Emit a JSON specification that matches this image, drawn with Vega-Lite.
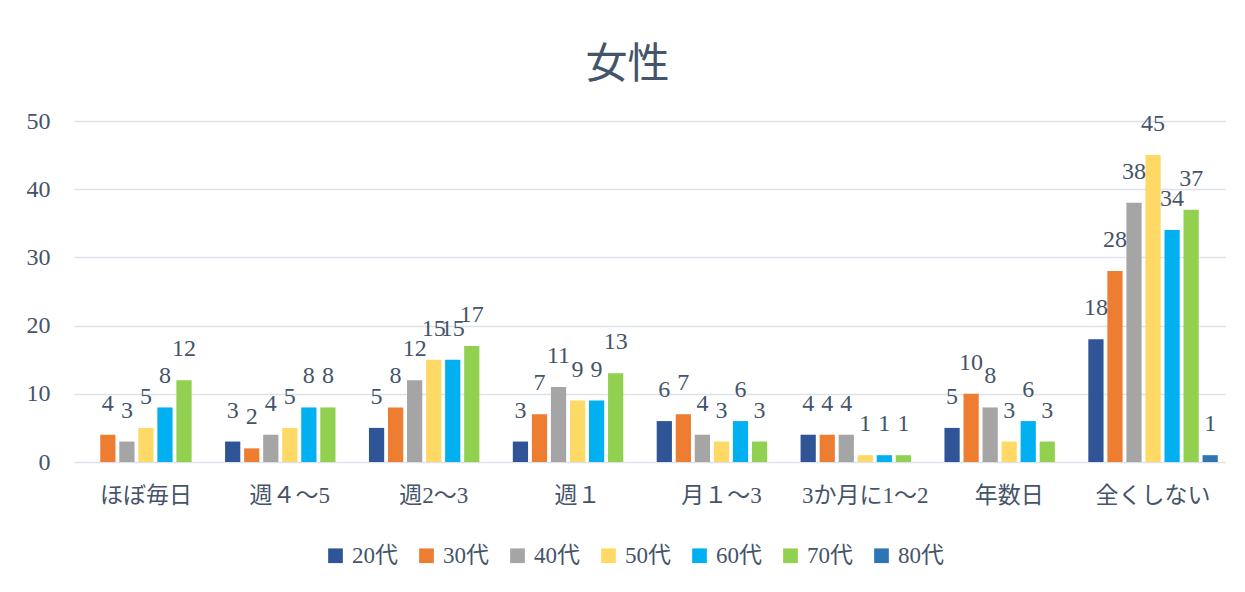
{
  "$schema": "https://vega.github.io/schema/vega-lite/v6.json",
  "width": 1151,
  "height": 341,
  "autosize": {"type": "none"},
  "padding": {"left": 74, "top": 121, "right": 20, "bottom": 130},
  "background": "white",
  "config": {"view": {"stroke": null}},
  "title": {"text": "女性", "fontSize": 42, "font": "Noto Sans CJK JP", "fontWeight": "normal", "color": "#44546A", "offset": 22, "dx": -22},
  "data": {"values": [
    {"cat": "ほぼ毎日", "age": "30代", "v": 4},
    {"cat": "ほぼ毎日", "age": "40代", "v": 3},
    {"cat": "ほぼ毎日", "age": "50代", "v": 5},
    {"cat": "ほぼ毎日", "age": "60代", "v": 8},
    {"cat": "ほぼ毎日", "age": "70代", "v": 12},
    {"cat": "週４～5", "age": "20代", "v": 3},
    {"cat": "週４～5", "age": "30代", "v": 2},
    {"cat": "週４～5", "age": "40代", "v": 4},
    {"cat": "週４～5", "age": "50代", "v": 5},
    {"cat": "週４～5", "age": "60代", "v": 8},
    {"cat": "週４～5", "age": "70代", "v": 8},
    {"cat": "週2～3", "age": "20代", "v": 5},
    {"cat": "週2～3", "age": "30代", "v": 8},
    {"cat": "週2～3", "age": "40代", "v": 12},
    {"cat": "週2～3", "age": "50代", "v": 15},
    {"cat": "週2～3", "age": "60代", "v": 15},
    {"cat": "週2～3", "age": "70代", "v": 17},
    {"cat": "週１", "age": "20代", "v": 3},
    {"cat": "週１", "age": "30代", "v": 7},
    {"cat": "週１", "age": "40代", "v": 11},
    {"cat": "週１", "age": "50代", "v": 9},
    {"cat": "週１", "age": "60代", "v": 9},
    {"cat": "週１", "age": "70代", "v": 13},
    {"cat": "月１～3", "age": "20代", "v": 6},
    {"cat": "月１～3", "age": "30代", "v": 7},
    {"cat": "月１～3", "age": "40代", "v": 4},
    {"cat": "月１～3", "age": "50代", "v": 3},
    {"cat": "月１～3", "age": "60代", "v": 6},
    {"cat": "月１～3", "age": "70代", "v": 3},
    {"cat": "3か月に1～2", "age": "20代", "v": 4},
    {"cat": "3か月に1～2", "age": "30代", "v": 4},
    {"cat": "3か月に1～2", "age": "40代", "v": 4},
    {"cat": "3か月に1～2", "age": "50代", "v": 1},
    {"cat": "3か月に1～2", "age": "60代", "v": 1},
    {"cat": "3か月に1～2", "age": "70代", "v": 1},
    {"cat": "年数日", "age": "20代", "v": 5},
    {"cat": "年数日", "age": "30代", "v": 10},
    {"cat": "年数日", "age": "40代", "v": 8},
    {"cat": "年数日", "age": "50代", "v": 3},
    {"cat": "年数日", "age": "60代", "v": 6},
    {"cat": "年数日", "age": "70代", "v": 3},
    {"cat": "全くしない", "age": "20代", "v": 18},
    {"cat": "全くしない", "age": "30代", "v": 28},
    {"cat": "全くしない", "age": "40代", "v": 38},
    {"cat": "全くしない", "age": "50代", "v": 45},
    {"cat": "全くしない", "age": "60代", "v": 34},
    {"cat": "全くしない", "age": "70代", "v": 37},
    {"cat": "全くしない", "age": "80代", "v": 1}
  ]},
  "encoding": {
    "x": {
      "field": "cat", "type": "nominal",
      "sort": ["ほぼ毎日", "週４～5", "週2～3", "週１", "月１～3", "3か月に1～2", "年数日", "全くしない"],
      "scale": {"paddingInner": 0.1, "paddingOuter": 0.05},
      "axis": {"title": null, "labelAngle": 0, "domain": false, "ticks": false, "labelPadding": 22, "labelFontSize": 23, "labelFont": "Liberation Serif, Noto Sans CJK JP", "labelColor": "#44546A"}
    },
    "xOffset": {
      "field": "age", "type": "nominal",
      "sort": ["20代", "30代", "40代", "50代", "60代", "70代", "80代"],
      "scale": {"domain": ["20代", "30代", "40代", "50代", "60代", "70代", "80代"], "paddingInner": 0.2, "paddingOuter": 0}
    },
    "y": {
      "field": "v", "type": "quantitative",
      "scale": {"domain": [0, 50], "nice": false},
      "axis": {"title": null, "values": [0, 10, 20, 30, 40, 50], "domain": false, "ticks": false, "labelPadding": 24, "labelFontSize": 24, "labelFont": "Liberation Serif", "labelColor": "#44546A", "gridColor": "#DDE2EA", "gridWidth": 1.5}
    }
  },
  "layer": [
    {
      "mark": {"type": "bar"},
      "encoding": {
        "color": {
          "field": "age", "type": "nominal",
          "scale": {"domain": ["20代", "30代", "40代", "50代", "60代", "70代", "80代"], "range": ["#2F5597", "#ED7D31", "#A5A5A5", "#FFD966", "#00B0F0", "#92D050", "#2E75B6"]},
          "legend": {"orient": "none", "legendX": 250, "legendY": 423, "direction": "horizontal", "title": null, "symbolType": "square", "symbolSize": 216, "symbolStrokeWidth": 0, "labelFontSize": 23, "labelFont": "Liberation Serif, Noto Sans CJK JP", "labelColor": "#44546A", "columnPadding": 17, "labelOffset": 5}
        }
      }
    },
    {
      "mark": {"type": "text", "baseline": "middle", "dy": -31, "fontSize": 24, "font": "Liberation Serif", "color": "#44546A"},
      "encoding": {"text": {"field": "v", "type": "quantitative"}}
    }
  ]
}
